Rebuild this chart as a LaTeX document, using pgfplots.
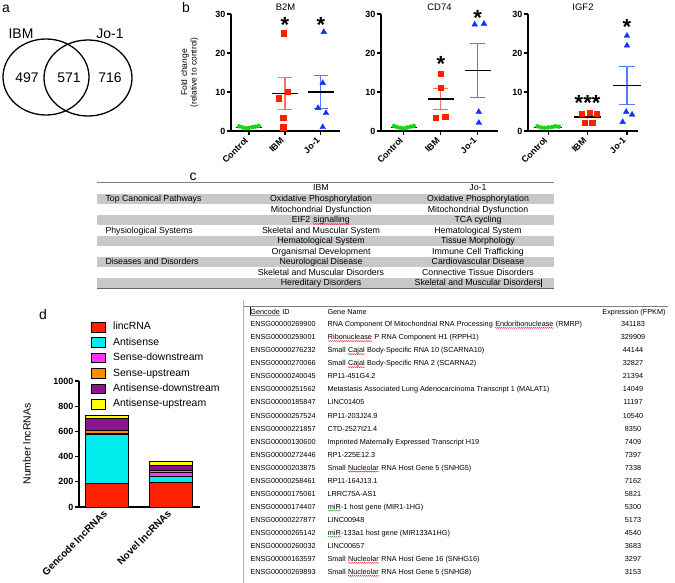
\documentclass[border=0pt]{standalone}
\usepackage{pgfplots}
\pgfplotsset{compat=1.18}
\usetikzlibrary{decorations.pathmorphing}
\usepackage{fontspec}
\setmainfont{Liberation Sans}
\newcommand{\fs}[1]{\fontsize{#1}{#1}\selectfont}
\definecolor{ctrl}{RGB}{20,215,20}
\definecolor{ibm}{RGB}{255,30,0}
\definecolor{ibmerr}{RGB}{255,110,90}
\definecolor{jo}{RGB}{20,50,255}
\definecolor{joerr}{RGB}{90,120,255}
\definecolor{tabgrey}{RGB}{200,200,200}
\definecolor{linc}{RGB}{255,34,0}
\definecolor{antis}{RGB}{0,235,235}
\definecolor{sdown}{RGB}{255,50,255}
\definecolor{sup}{RGB}{255,140,0}
\definecolor{adown}{RGB}{140,20,140}
\definecolor{aup}{RGB}{255,255,0}
\definecolor{sqred}{RGB}{230,40,40}
\definecolor{sqgreen}{RGB}{60,170,60}
\tikzset{starlbl/.style={anchor=north, inner sep=0pt, font=\fs{22}\bfseries}}
\newcommand{\sq}[2][sqred]{\tikz[baseline=(w.base)]{\node[inner sep=0pt, anchor=base west](w) at (0,0) {#2};\draw[#1, line width=0.4pt, decorate, decoration={snake, amplitude=0.5pt, segment length=2pt}] ([yshift=-1.3pt]w.base west) -- ([yshift=-1.3pt]w.base east);}}
\newcommand{\cur}{\rule[-1.2pt]{0.5pt}{8pt}}
\pgfplotsset{gp/.style={anchor=south west, scale only axis, height=117bp, ymin=0, ymax=30,
 axis lines=left, axis line style={-, line width=1.1pt},
 ytick={0,10,20,30}, xtick={0,1,2}, xticklabels={Control,IBM,Jo-1},
 tick align=outside, major tick length=4bp, tick style={black, line width=1.1pt},
 /pgf/number format/assume math mode=true,
 yticklabel style={font=\fs{9}\bfseries, inner sep=1.5bp},
 xticklabel style={font=\fs{9}\bfseries, rotate=45, anchor=east, inner sep=1.5bp, xshift=-3bp, yshift=-1bp},
 title style={font=\fs{9.5}, inner sep=1bp, yshift=-4bp},
 clip=false},
 cpt/.style={only marks, mark=*, mark size=2bp, color=ctrl, mark options={draw=ctrl, fill=ctrl}},
 ipt/.style={only marks, mark=square*, mark size=2.6bp, color=ibm, mark options={draw=ibm, fill=ibm}},
 jpt/.style={only marks, mark=triangle*, mark size=3.3bp, color=jo, mark options={draw=jo, fill=jo}},
 ieb/.style={ibmerr, line width=1.1pt, mark=none},
 jeb/.style={joerr, line width=1.1pt, mark=none},
 mn/.style={black, line width=1.1pt, mark=none}}
\newcommand{\crow}[3]{\node[anchor=mid] at (axis cs:321,#1) {#2};\node[anchor=mid] at (axis cs:478,#1) {#3};}
\newcommand{\grow}[4]{\node[anchor=mid west] at (axis cs:247,#1) {#2};\node[anchor=mid west] at (axis cs:324,#1) {#3};\node[anchor=mid] at (axis cs:633,#1) {#4};}
\begin{document}
\begin{tikzpicture}
\useasboundingbox (0,0) rectangle (675bp,583bp);
% ---------- overlay: labels, Venn, tables ----------
\begin{axis}[at={(0bp,0bp)}, anchor=south west, scale only axis, width=675bp, height=583bp,
 xmin=0, xmax=675, ymin=0, ymax=583, y dir=reverse, hide axis, clip=false]
\node[font=\fs{14}] at (axis cs:6,9) {a};
\node[font=\fs{14}] at (axis cs:186,8) {b};
\node[font=\fs{14}] at (axis cs:193,177) {c};
\node[font=\fs{14}] at (axis cs:43,315) {d};
% Venn
\draw[line width=1.3pt] (axis cs:46,77) ellipse [x radius=43bp, y radius=38bp];
\draw[line width=1.3pt] (axis cs:88,78) ellipse [x radius=44bp, y radius=38bp];
\node[font=\fs{14}] at (axis cs:21,34) {IBM};
\node[font=\fs{14}] at (axis cs:110,34) {Jo-1};
\node[font=\fs{14}] at (axis cs:27,78) {497};
\node[font=\fs{14}] at (axis cs:69,78) {571};
\node[font=\fs{14}] at (axis cs:110,78) {716};
% table c
\fill[tabgrey] (axis cs:97,194) rectangle (axis cs:554,204.45);
\fill[tabgrey] (axis cs:97,214.9) rectangle (axis cs:554,225.35);
\fill[tabgrey] (axis cs:97,235.8) rectangle (axis cs:554,246.25);
\fill[tabgrey] (axis cs:97,256.7) rectangle (axis cs:554,267.15);
\fill[tabgrey] (axis cs:97,277.6) rectangle (axis cs:554,288);
\draw[gray, line width=1pt] (axis cs:97,182) -- (axis cs:554,182);
\draw[gray!80!black, line width=1.5pt] (axis cs:97,288.5) -- (axis cs:554,288.5);
\begin{scope}[font=\fs{8.8}]
\node[anchor=mid] at (axis cs:321,188) {IBM};
\node[anchor=mid] at (axis cs:478,188) {Jo-1};
\node[anchor=mid west] at (axis cs:102,199.2) {Top Canonical Pathways};
\node[anchor=mid west] at (axis cs:102,230.6) {Physiological Systems};
\node[anchor=mid west] at (axis cs:102,261.9) {Diseases and Disorders};
\crow{199.2}{Oxidative Phosphorylation}{Oxidative Phosphorylation}
\crow{209.7}{Mitochondrial Dysfunction}{Mitochondrial Dysfunction}
\crow{220.1}{EIF2 \sq{signalling}}{TCA cycling}
\crow{230.6}{Skeletal and Muscular System}{Hematological System}
\crow{241.0}{Hematological System}{Tissue Morphology}
\crow{251.5}{Organismal Development}{Immune Cell Trafficking}
\crow{261.9}{Neurological Disease}{Cardiovascular Disease}
\crow{272.4}{Skeletal and Muscular Disorders}{Connective Tissue Disorders}
\crow{282.8}{Hereditary Disorders}{Skeletal and Muscular Disorders\cur}
\end{scope}
% gene table
\draw[gray, line width=1.2pt] (axis cs:243,306.5) -- (axis cs:668,306.5);
\draw[gray!60, line width=0.5pt] (axis cs:243,300) -- (axis cs:243,583);
\begin{scope}[font=\fs{7.3}]
\node[anchor=mid west] at (axis cs:246,311.5) {\cur\sq{Gencode} ID};
\node[anchor=mid west] at (axis cs:324,311.5) {Gene Name};
\node[anchor=mid] at (axis cs:634,311.5) {Expression (FPKM)};
\grow{324.0}{ENSG00000269900}{RNA Component Of Mitochondrial RNA Processing \sq{Endoribonuclease} (RMRP)}{341183}
\grow{337.1}{ENSG00000259001}{\sq{Ribonuclease} P RNA Component H1 (RPPH1)}{329909}
\grow{350.1}{ENSG00000276232}{Small \sq{Cajal} Body-Specific RNA 10 (SCARNA10)}{44144}
\grow{363.2}{ENSG00000270066}{Small \sq{Cajal} Body-Specific RNA 2 (SCARNA2)}{32827}
\grow{376.2}{ENSG00000240045}{RP11-451G4.2}{21394}
\grow{389.3}{ENSG00000251562}{Metastasis Associated Lung Adenocarcinoma Transcript 1 (MALAT1)}{14049}
\grow{402.3}{ENSG00000185847}{LINC01405}{11197}
\grow{415.4}{ENSG00000257524}{RP11-203J24.9}{10540}
\grow{428.4}{ENSG00000221857}{CTD-2527I21.4}{8350}
\grow{441.5}{ENSG00000130600}{Imprinted Maternally Expressed Transcript H19}{7409}
\grow{454.5}{ENSG00000272446}{RP1-225E12.3}{7397}
\grow{467.6}{ENSG00000203875}{Small \sq{Nucleolar} RNA Host Gene 5 (SNHG5)}{7338}
\grow{480.6}{ENSG00000258461}{RP11-164J13.1}{7162}
\grow{493.7}{ENSG00000175061}{LRRC75A-AS1}{5821}
\grow{506.7}{ENSG00000174407}{\sq[sqgreen]{miR}-1 host gene (MIR1-1HG)}{5300}
\grow{519.8}{ENSG00000227877}{LINC00948}{5173}
\grow{532.8}{ENSG00000265142}{\sq[sqgreen]{miR}-133a1 host gene (MIR133A1HG)}{4540}
\grow{545.9}{ENSG00000260032}{LINC00657}{3683}
\grow{558.9}{ENSG00000163597}{Small \sq{Nucleolar} RNA Host Gene 16 (SNHG16)}{3297}
\grow{572.0}{ENSG00000269893}{Small \sq{Nucleolar} RNA Host Gene 5 (SNHG8)}{3153}
\end{scope}
\end{axis}
% ---------- B2M ----------
\begin{axis}[gp, at={(231bp,452bp)}, width=109bp, xmin=-0.5, xmax=2.53, title={B2M},
 ylabel={Fold change\\(relative to control)},
 ylabel style={font=\fontsize{8.5}{9.5}\selectfont, align=center, at={(axis description cs:-0.38,0.5)}, anchor=center}]
\addplot[ieb] coordinates {(1,5.4) (1,13.7)};
\addplot[ieb] coordinates {(0.8,13.7) (1.2,13.7)};
\addplot[ieb] coordinates {(0.8,5.4) (1.2,5.4)};
\addplot[jeb] coordinates {(2,5.8) (2,14.2)};
\addplot[jeb] coordinates {(1.8,14.2) (2.2,14.2)};
\addplot[jeb] coordinates {(1.8,5.8) (2.2,5.8)};
\addplot[cpt] coordinates {(-0.27,1.2) (-0.18,0.9) (-0.09,0.7) (0,0.8) (0.09,1.0) (0.18,1.1) (0.27,1.3)};
\addplot[ipt] coordinates {(0.97,25.1) (1.08,10.1) (0.83,8.4) (0.95,3.5) (0.95,0.95)};
\addplot[jpt] coordinates {(2.08,25.4) (2.05,12.3) (1.92,5.9) (2.14,4.6) (2.05,1.0)};
\addplot[mn] coordinates {(-0.35,1.0) (0.35,1.0)};
\addplot[mn] coordinates {(0.65,9.6) (1.35,9.6)};
\addplot[mn] coordinates {(1.65,10.0) (2.35,10.0)};
\node[starlbl] at (axis cs:1,29.2) {*};
\node[starlbl] at (axis cs:2,29.2) {*};
\end{axis}
% ---------- CD74 ----------
\begin{axis}[gp, at={(381bp,452bp)}, width=117bp, xmin=-0.62, xmax=2.55, title={CD74}]
\addplot[ieb] coordinates {(1,5.5) (1,11.0)};
\addplot[ieb] coordinates {(0.8,11.0) (1.2,11.0)};
\addplot[ieb] coordinates {(0.8,5.5) (1.2,5.5)};
\addplot[jeb] coordinates {(2,8.7) (2,22.5)};
\addplot[jeb] coordinates {(1.8,22.5) (2.2,22.5)};
\addplot[jeb] coordinates {(1.8,8.7) (2.2,8.7)};
\addplot[cpt] coordinates {(-0.27,1.3) (-0.18,1.0) (-0.09,0.8) (0,0.7) (0.09,0.9) (0.18,1.1) (0.27,1.3)};
\addplot[ipt] coordinates {(1,14.6) (1,11.0) (0.87,3.4) (1.12,3.6)};
\addplot[jpt] coordinates {(1.92,27.3) (2.17,27.5) (2.03,4.9) (2.03,2.1)};
\addplot[mn] coordinates {(-0.35,1.0) (0.35,1.0)};
\addplot[mn] coordinates {(0.65,8.2) (1.35,8.2)};
\addplot[mn] coordinates {(1.65,15.5) (2.35,15.5)};
\node[starlbl] at (axis cs:1,19.3) {*};
\node[starlbl] at (axis cs:2,30.9) {*};
\end{axis}
% ---------- IGF2 ----------
\begin{axis}[gp, at={(528bp,452bp)}, width=110bp, xmin=-0.51, xmax=2.28, title={IGF2}]
\addplot[ieb] coordinates {(1,3.0) (1,4.1)};
\addplot[jeb] coordinates {(2,6.9) (2,16.5)};
\addplot[jeb] coordinates {(1.8,16.5) (2.2,16.5)};
\addplot[jeb] coordinates {(1.8,6.9) (2.2,6.9)};
\addplot[cpt] coordinates {(-0.27,1.2) (-0.18,0.9) (-0.09,0.8) (0,0.9) (0.09,1.0) (0.18,1.2) (0.27,1.1)};
\addplot[ipt] coordinates {(0.86,4.4) (1.05,4.7) (1.24,4.4) (0.93,2.2) (1.12,2.2)};
\addplot[jpt] coordinates {(2,24.4) (2,21.9) (1.98,4.9) (2.13,4.2) (1.89,2.3)};
\addplot[mn] coordinates {(-0.35,1.0) (0.35,1.0)};
\addplot[mn] coordinates {(0.65,3.6) (1.35,3.6)};
\addplot[mn] coordinates {(1.65,11.6) (2.35,11.6)};
\node[starlbl] at (axis cs:1,9.05) {***};
\node[starlbl] at (axis cs:2,28.6) {*};
\end{axis}
% ---------- panel d ----------
\begin{axis}[at={(79bp,76bp)}, anchor=south west, scale only axis, width=121bp, height=126bp,
 ybar stacked, bar width=43bp, xmin=-0.43, xmax=1.46, ymin=0, ymax=1000,
 axis lines=left, axis line style={-, line width=1.1pt},
 xtick={0,1}, xticklabels={Gencode lncRNAs, Novel lncRNAs}, xtick style={draw=none},
 ytick={0,200,400,600,800,1000}, tick align=outside, major tick length=4bp,
 ytick style={black, line width=1.1pt},
 /pgf/number format/assume math mode=true, /pgf/number format/1000 sep={},
 yticklabel style={font=\fs{9}\bfseries, inner sep=1.5bp},
 xticklabel style={font=\fs{10}\bfseries, rotate=45, anchor=east, inner sep=1.5bp},
 ylabel={Number lncRNAs},
 ylabel style={font=\fs{10.5}, at={(axis description cs:-0.43,0.5)}, anchor=center},
 legend cell align=left,
 legend image code/.code={\draw[#1, draw=black, line width=0.9pt] (0bp,-4.8bp) rectangle (14bp,4.8bp);},
 legend style={at={(axis description cs:0.1,1.475)}, anchor=north west, draw=none, fill=none,
   font=\fs{10.5}, row sep=3.6bp, inner sep=0pt,
   nodes={inner sep=1bp, text height=7.6bp, text depth=2.2bp},
   /tikz/every odd column/.append style={column sep=6bp}},
 clip=false]
\addplot[fill=linc, draw=black, line width=0.9pt] coordinates {(0,190) (1,198)};
\addplot[fill=antis, draw=black, line width=0.9pt] coordinates {(0,384) (1,45)};
\addplot[fill=sdown, draw=black, line width=0.9pt] coordinates {(0,12) (1,30)};
\addplot[fill=sup, draw=black, line width=0.9pt] coordinates {(0,22) (1,15)};
\addplot[fill=adown, draw=black, line width=0.9pt] coordinates {(0,98) (1,42)};
\addplot[fill=aup, draw=black, line width=0.9pt] coordinates {(0,20) (1,35)};
\legend{lincRNA, Antisense, Sense-downstream, Sense-upstream, Antisense-downstream, Antisense-upstream}
\end{axis}
\end{tikzpicture}
\end{document}
